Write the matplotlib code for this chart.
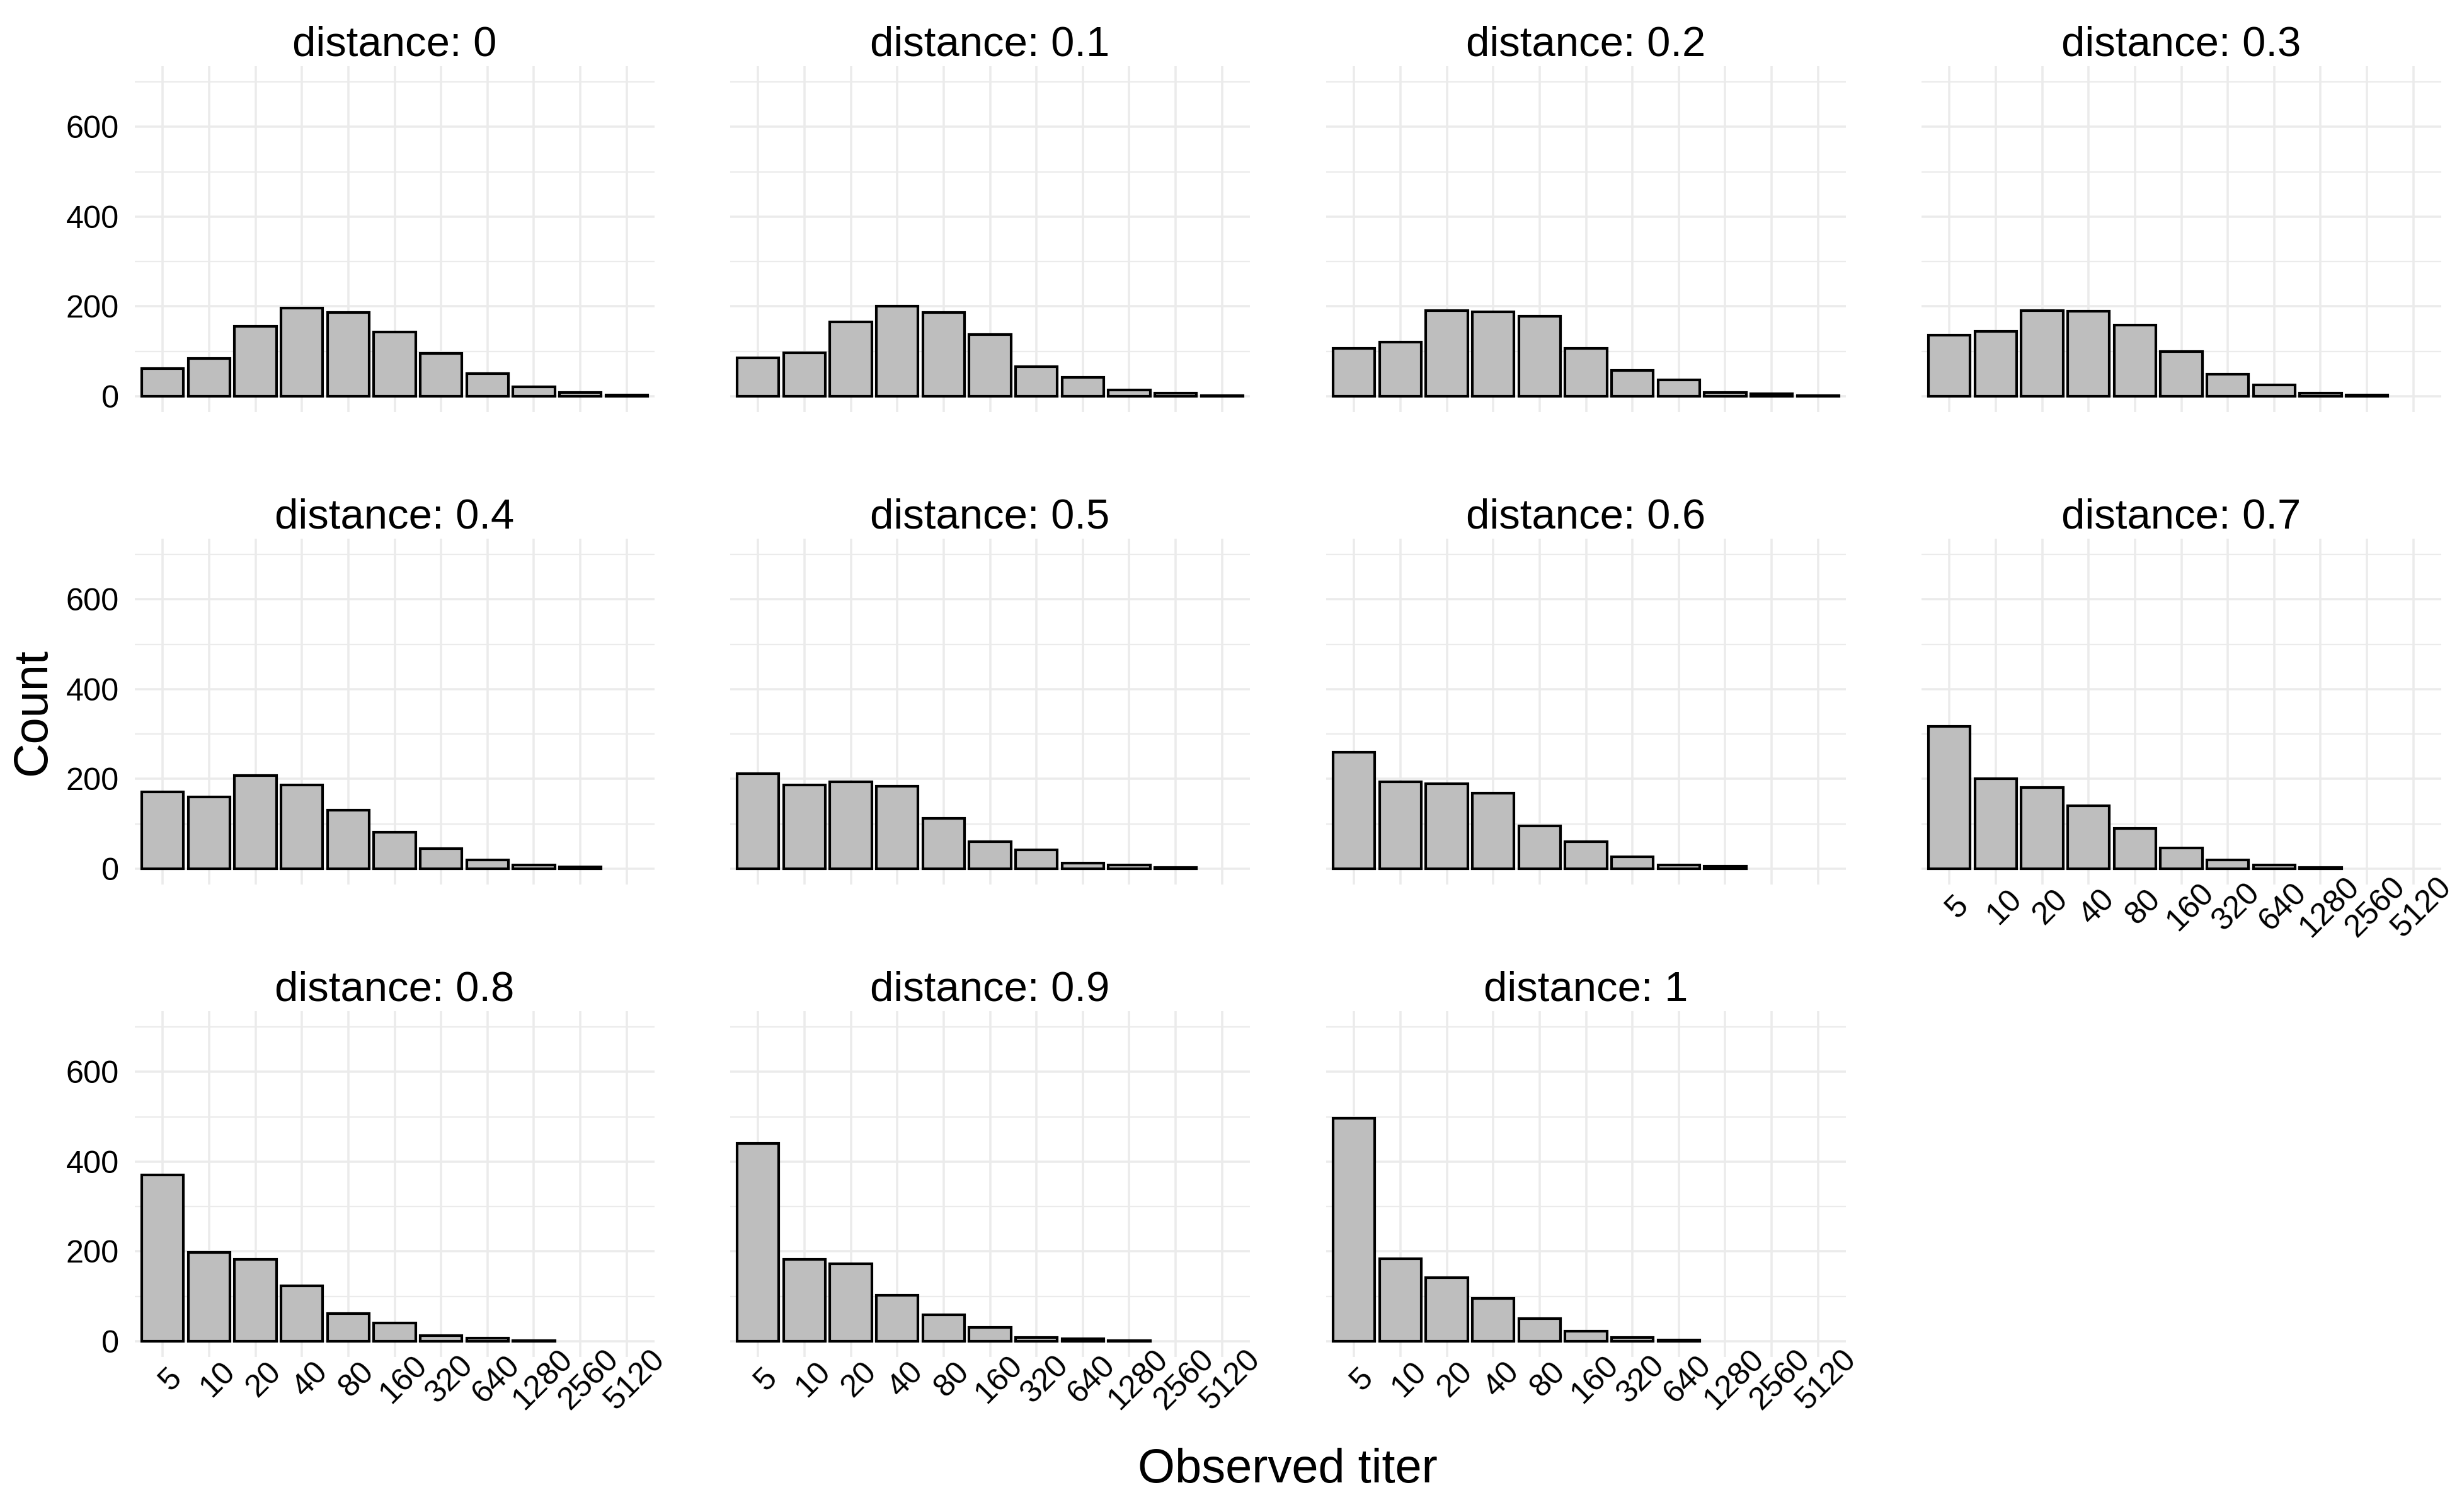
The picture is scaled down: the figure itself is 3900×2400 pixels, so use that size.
import numpy as np
import matplotlib.pyplot as plt
import matplotlib.transforms as mtransforms

plt.rcParams['font.family'] = ['Liberation Sans', 'DejaVu Sans']

# titulos observados (eje x, discreto)
titulos = ["5", "10", "20", "40", "80", "160", "320", "640", "1280", "2560", "5120"]
distancias = ["0", "0.1", "0.2", "0.3", "0.4", "0.5", "0.6", "0.7", "0.8", "0.9", "1"]

# conteos por distancia
conteos_d00 = [62, 84, 156, 196, 186, 143, 96, 50, 21, 9, 3]
conteos_d01 = [86, 97, 165, 201, 186, 138, 66, 42, 14, 7, 2]
conteos_d02 = [106, 121, 191, 188, 178, 106, 57, 37, 9, 5, 2]
conteos_d03 = [136, 144, 191, 189, 158, 99, 49, 26, 7, 3, 0]
conteos_d04 = [171, 160, 208, 187, 130, 81, 45, 19, 8, 4, 0]
conteos_d05 = [212, 186, 193, 184, 112, 61, 42, 12, 8, 3, 0]
conteos_d06 = [260, 193, 190, 169, 95, 60, 27, 9, 5, 0, 0]
conteos_d07 = [317, 201, 181, 141, 90, 47, 20, 8, 3, 0, 0]
conteos_d08 = [370, 198, 182, 123, 62, 41, 12, 7, 2, 0, 0]
conteos_d09 = [440, 182, 173, 102, 59, 31, 8, 5, 2, 0, 0]
conteos_d10 = [496, 184, 142, 96, 51, 22, 8, 3, 0, 0, 0]

conteos = [conteos_d00, conteos_d01, conteos_d02, conteos_d03, conteos_d04, conteos_d05,
           conteos_d06, conteos_d07, conteos_d08, conteos_d09, conteos_d10]

W, H = 3900, 2400
fig = plt.figure(figsize=(13, 8), dpi=300)

izq = [214, 1159, 2105, 3050]   # borde izquierdo de cada columna (px)
arriba = [105, 855, 1605]       # borde superior de cada fila (px)
ancho, alto = 825, 549

grid_col = "#EBEBEB"
desplazamiento = mtransforms.ScaledTranslation(14 / 300, 0, fig.dpi_scale_trans)

for k, (dist, valores) in enumerate(zip(distancias, conteos)):
    fila, col = divmod(k, 4)
    ax = fig.add_axes([izq[col] / W, 1 - (arriba[fila] + alto) / H, ancho / W, alto / H])
    x = np.arange(len(titulos))
    v = np.array(valores)
    m = v > 0
    ax.bar(x[m], v[m], width=0.9, color="#BEBEBE", edgecolor="black", linewidth=1.0, zorder=3)

    ax.set_xlim(-0.6, len(titulos) - 0.4)
    ax.set_ylim(-35, 735)
    ax.set_yticks([0, 200, 400, 600])
    ax.set_yticks([100, 300, 500, 700], minor=True)
    ax.set_xticks(x)
    ax.grid(True, which="major", axis="both", color=grid_col, linewidth=0.85, zorder=0)
    ax.grid(True, which="minor", axis="y", color=grid_col, linewidth=0.55, zorder=0)
    ax.set_axisbelow(True)
    for s in ax.spines.values():
        s.set_visible(False)

    ax.tick_params(which="both", length=0)
    ax.tick_params(axis="y", labelsize=12.1, pad=6, labelleft=(col == 0))
    con_etiquetas = k >= 7
    ax.tick_params(axis="x", labelsize=12.1, pad=8.6, labelbottom=con_etiquetas)
    if con_etiquetas:
        ax.set_xticklabels(titulos, rotation=45, ha="center", va="center")
        for lbl in ax.get_xticklabels():
            lbl.set_transform(lbl.get_transform() + desplazamiento)
    else:
        ax.set_xticklabels([])

    ax.set_title("distance: " + dist, fontsize=16.1, pad=4)

fig.text(53 / W, 1 - 1130 / H, "Count", rotation=90, fontsize=18.2, ha="center", va="center")
fig.text(2044 / W, 1 - 2333 / H, "Observed titer", fontsize=18.2, ha="center", va="center")

fig.savefig("out.png", dpi=300, facecolor="white")
